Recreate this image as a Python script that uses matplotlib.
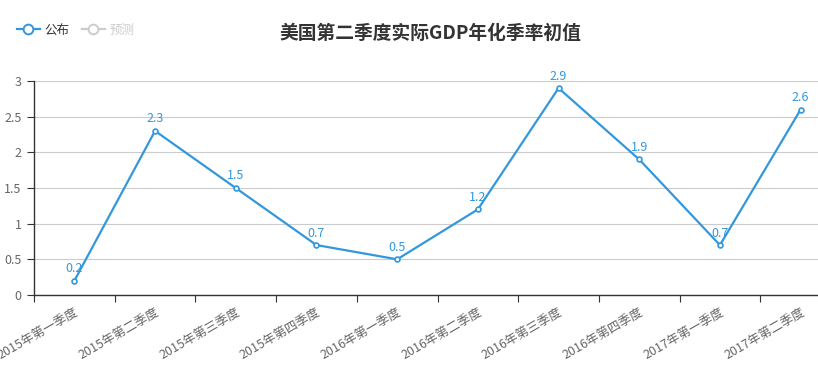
import matplotlib
matplotlib.use("Agg")
import matplotlib.pyplot as plt
from matplotlib.lines import Line2D

plt.rcParams["font.family"] = ["Noto Sans CJK SC", "DejaVu Sans"]

categories = [
    "2015年第一季度", "2015年第二季度", "2015年第三季度", "2015年第四季度",
    "2016年第一季度", "2016年第二季度", "2016年第三季度", "2016年第四季度",
    "2017年第一季度", "2017年第二季度",
]
published = [0.2, 2.3, 1.5, 0.7, 0.5, 1.2, 2.9, 1.9, 0.7, 2.6]
y_ticks = [0, 0.5, 1, 1.5, 2, 2.5, 3]
y_tick_labels = ["0", "0.5", "1", "1.5", "2", "2.5", "3"]

BLUE = "#3398db"
GREY = "#666666"
AXIS = "#333333"

fig = plt.figure(figsize=(8.18, 3.81), dpi=100)
ax = fig.add_axes([34 / 818, 1 - 295 / 381, 1 - 34 / 818, (295 - 81) / 381])

x = list(range(len(categories)))
ax.plot(x, published, color=BLUE, lw=1.6, marker="o", ms=3.5,
        mfc="white", mec=BLUE, mew=1.2, zorder=3, clip_on=False)
for xi, v in zip(x, published):
    ax.annotate(f"{v:g}", (xi, v), xytext=(0, 4), textcoords="offset points",
                ha="center", va="bottom", color=BLUE, fontsize=9, zorder=4)

# boundary ticks between categories; the last band is cut by the figure edge
ax.set_xticks([i - 0.5 for i in x])
ax.set_xticklabels([])
ax.set_xticks(x, minor=True)
ax.set_xticklabels(categories, minor=True, rotation=30, ha="right",
                   rotation_mode="anchor")
ax.set_xlim(-0.5, -0.5 + 784 / 80.7)
ax.set_ylim(0, 3)
ax.set_yticks(y_ticks)
ax.set_yticklabels(y_tick_labels)

ax.tick_params(axis="x", which="minor", length=0, pad=8, labelsize=9, labelcolor=GREY)
ax.tick_params(axis="x", which="major", length=5, color=AXIS, direction="out")
ax.tick_params(axis="y", length=5, color=AXIS, labelsize=9, labelcolor=GREY, pad=4)

ax.grid(axis="y", color="#cccccc", lw=0.8)
ax.set_axisbelow(True)
for side in ("top", "right"):
    ax.spines[side].set_visible(False)
for side in ("left", "bottom"):
    ax.spines[side].set_color(AXIS)
    ax.spines[side].set_linewidth(1.0)

fig.text(430 / 818, 1 - 33 / 381, "美国第二季度实际GDP年化季率初值",
         ha="center", va="center", fontsize=13.5, fontweight="bold", color="#333333")

handles = [
    Line2D([], [], color=BLUE, lw=1.6, marker="o", ms=7, mfc="white", mec=BLUE, mew=1.4),
    Line2D([], [], color="#cccccc", lw=1.6, marker="o", ms=7, mfc="white", mec="#cccccc", mew=1.4),
]
leg = fig.legend(handles, ["公布", "预测"], loc="center left",
                 bbox_to_anchor=(12 / 818, 1 - 30 / 381), ncol=2, frameon=False,
                 fontsize=9, handlelength=1.8, handletextpad=0.4, columnspacing=1.0,
                 borderaxespad=0)
leg.get_texts()[0].set_color("#333333")
leg.get_texts()[1].set_color("#cccccc")

fig.savefig("out.png", dpi=100)
